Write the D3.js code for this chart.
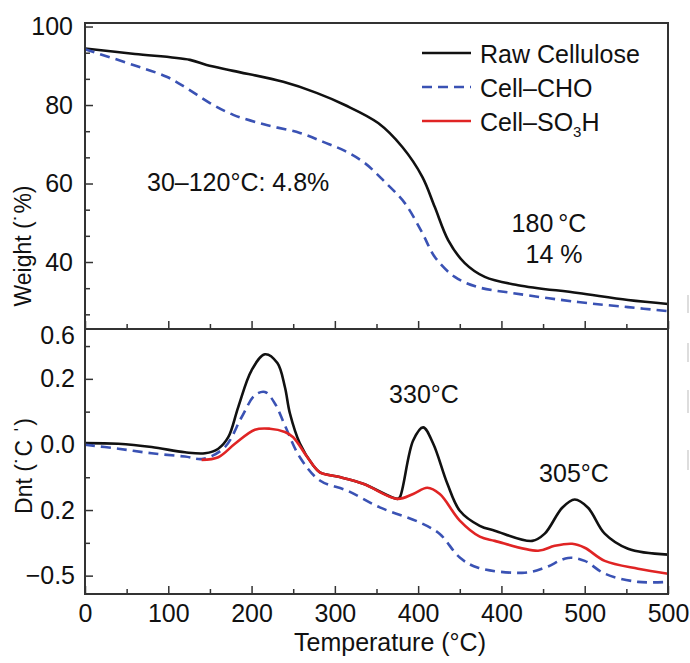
<!DOCTYPE html>
<html>
<head>
<meta charset="utf-8">
<script src="https://cdn.jsdelivr.net/npm/d3@7"></script>
<style>
  body { margin: 0; background: #fff; }
  text { font-family: "Liberation Sans", Arial, sans-serif; fill: #111; }
</style>
</head>
<body>
<div id="chart"></div>
<script>
// x positions run 0..700 along the axis; labels are as printed
const xTickPos = [0, 100, 200, 300, 400, 500, 600, 700];
const xTickLabels = ["0", "100", "200", "300", "400", "400", "500", "500"];

const wTickVals = [100, 80, 60, 40];
const dLabelVals = [0.333, 0.2, 0, -0.2, -0.4];
const dLabels = ["0.6", "0.2", "0.0", "0.2", "\u22120.5"];

// weight curves
const tRaw = [0, 60, 126, 146, 178, 238, 278, 312, 352, 381, 405, 420, 436, 456, 480, 520, 592, 652, 700];
const wRaw = [94.4, 93.0, 91.5, 90.2, 88.7, 85.9, 83.1, 80.0, 75.4, 69.3, 61.7, 54.0, 45.6, 39.7, 36.2, 34.1, 32.1, 30.3, 29.3];
const tCho = [0, 58, 98, 122, 150, 178, 218, 258, 286, 312, 336, 360, 384, 405, 420, 444, 472, 513, 592, 652, 700];
const wCho = [94.2, 90.2, 87.2, 84.3, 80.5, 77.5, 74.9, 72.9, 70.6, 68.3, 65.2, 60.4, 55.0, 47.4, 41.3, 36.2, 33.6, 32.1, 29.8, 28.5, 27.5];

// derivative curves
const dtRaw = [0, 40, 80, 120, 144, 160, 172, 184, 200, 216, 231, 240, 246, 258, 274, 282, 303, 334, 375, 378, 394, 406, 418, 435, 450, 474, 492, 537, 552, 573, 588, 604, 624, 652, 700];
const dRaw = [0.004, 0.002, -0.008, -0.024, -0.027, -0.013, 0.022, 0.114, 0.226, 0.275, 0.248, 0.175, 0.095, 0.003, -0.064, -0.085, -0.098, -0.120, -0.166, -0.161, 0.012, 0.052, 0.003, -0.119, -0.202, -0.248, -0.263, -0.294, -0.272, -0.193, -0.168, -0.193, -0.272, -0.318, -0.336];
const dtCho = [0, 40, 80, 120, 142, 168, 188, 204, 216, 228, 240, 258, 282, 315, 354, 402, 426, 450, 472, 528, 552, 580, 600, 624, 664, 700];
const dCho = [-0.001, -0.013, -0.027, -0.037, -0.044, -0.008, 0.083, 0.150, 0.160, 0.125, 0.058, -0.039, -0.110, -0.141, -0.192, -0.238, -0.273, -0.345, -0.376, -0.391, -0.376, -0.346, -0.355, -0.394, -0.419, -0.419];
const dtSo3h = [140, 160, 180, 204, 222, 240, 250, 267, 282, 303, 334, 375, 394, 411, 426, 450, 474, 492, 544, 564, 585, 600, 624, 664, 700];
const dSo3h = [-0.047, -0.039, 0.002, 0.045, 0.048, 0.038, 0.022, -0.039, -0.085, -0.098, -0.120, -0.166, -0.151, -0.132, -0.151, -0.232, -0.281, -0.294, -0.324, -0.309, -0.303, -0.315, -0.355, -0.379, -0.394];

const seriesNames = ["Raw Cellulose", "Cell\u2013CHO", "Cell\u2013SO"];
const colors = ["#111111", "#3a52b4", "#e02424"];

const width = 690, height = 663;
const plotL = 85, plotR = 668, plotT = 23, plotMid = 329, plotB = 594;

const svg = d3.select("#chart").append("svg")
    .attr("width", width)
    .attr("height", height);

svg.append("rect").attr("width", width).attr("height", height).attr("fill", "#fff");

const x = d3.scaleLinear().domain([0, 700]).range([plotL, plotR]);
const yW = d3.scaleLinear().domain([22.93, 100.9]).range([plotMid, plotT]);
const yD = d3.scaleLinear().domain([-0.456, 0.352]).range([plotB, plotMid]);

function ticksOnly(g, axis) {
    g.call(axis);
    g.select(".domain").remove();
    g.selectAll("line").attr("stroke", "#333").attr("stroke-width", 1.5);
}
function labelsOnly(g, axis) {
    g.call(axis);
    g.select(".domain").remove();
    g.selectAll("line").remove();
    g.selectAll("text").style("font-family", "'Liberation Sans', Arial, sans-serif")
        .style("font-size", "25px").attr("fill", "#111");
}

const xMinor = d3.range(50, 700, 100);
const wMinor = [26.67, 33.33, 46.67, 53.33, 66.67, 73.33, 86.67, 93.33];

// top panel ticks
svg.append("g").attr("transform", `translate(0,${plotMid})`)
    .call(ticksOnly, d3.axisTop(x).tickValues(xTickPos).tickSize(8).tickFormat(""));
svg.append("g").attr("transform", `translate(0,${plotMid})`)
    .call(ticksOnly, d3.axisTop(x).tickValues(xMinor).tickSize(5).tickFormat(""));
svg.append("g").attr("transform", `translate(${plotL},0)`)
    .call(ticksOnly, d3.axisRight(yW).tickValues(wTickVals).tickSize(8).tickFormat(""));
svg.append("g").attr("transform", `translate(${plotL},0)`)
    .call(ticksOnly, d3.axisRight(yW).tickValues(wMinor).tickSize(5).tickFormat(""));
svg.append("g").attr("transform", `translate(${plotL},0)`)
    .call(labelsOnly, d3.axisLeft(yW).tickValues(wTickVals).tickSize(0).tickPadding(12));

// bottom panel ticks
svg.append("g").attr("transform", `translate(0,${plotB})`)
    .call(ticksOnly, d3.axisTop(x).tickValues(xTickPos).tickSize(8).tickFormat(""));
svg.append("g").attr("transform", `translate(0,${plotB})`)
    .call(ticksOnly, d3.axisTop(x).tickValues(xMinor).tickSize(5).tickFormat(""));
svg.append("g").attr("transform", `translate(0,${plotB})`)
    .call(labelsOnly, d3.axisBottom(x).tickValues(xTickPos).tickSize(0).tickPadding(10)
        .tickFormat((d, i) => xTickLabels[i]));
svg.append("g").attr("transform", `translate(${plotL},0)`)
    .call(ticksOnly, d3.axisRight(yD).tickValues([0.2, 0, -0.2, -0.4]).tickSize(8).tickFormat(""));
svg.append("g").attr("transform", `translate(${plotL},0)`)
    .call(ticksOnly, d3.axisRight(yD).tickValues([0.3, 0.1, -0.1, -0.3]).tickSize(5).tickFormat(""));
svg.append("g").attr("transform", `translate(${plotL},0)`)
    .call(labelsOnly, d3.axisLeft(yD).tickValues(dLabelVals).tickSize(0).tickPadding(10)
        .tickFormat((d, i) => dLabels[i]));

// curves
const lineW = d3.line().x(d => x(d[0])).y(d => yW(d[1])).curve(d3.curveCatmullRom.alpha(0.5));
const lineD = d3.line().x(d => x(d[0])).y(d => yD(d[1])).curve(d3.curveCatmullRom.alpha(0.5));

function draw(line, xs, ys, color, dashed) {
    svg.append("path")
        .datum(xs.map((v, i) => [v, ys[i]]))
        .attr("d", line)
        .attr("fill", "none")
        .attr("stroke", color)
        .attr("stroke-width", 2.6)
        .attr("stroke-linejoin", "round")
        .attr("stroke-dasharray", dashed ? "10,6" : null);
}

draw(lineW, tRaw, wRaw, colors[0], false);
draw(lineW, tCho, wCho, colors[1], true);
draw(lineD, dtRaw, dRaw, colors[0], false);
draw(lineD, dtCho, dCho, colors[1], true);
draw(lineD, dtSo3h, dSo3h, colors[2], false);

// frames
svg.append("rect").attr("x", plotL).attr("y", plotT).attr("width", plotR - plotL).attr("height", plotMid - plotT)
    .attr("fill", "none").attr("stroke", "#333").attr("stroke-width", 2);
svg.append("rect").attr("x", plotL).attr("y", plotMid).attr("width", plotR - plotL).attr("height", plotB - plotMid)
    .attr("fill", "none").attr("stroke", "#333").attr("stroke-width", 2);

// legend
const legend = svg.append("g").attr("transform", "translate(422,53)");
seriesNames.forEach((name, i) => {
    const row = legend.append("g").attr("transform", `translate(0,${i * 34})`);
    row.append("line").attr("x1", 0).attr("x2", 49).attr("y1", 0).attr("y2", 0)
        .attr("stroke", colors[i]).attr("stroke-width", 2.6)
        .attr("stroke-dasharray", i === 1 ? "10,6" : null);
    const t = row.append("text").attr("x", 58).attr("y", 10).style("font-size", "25px").text(name);
    if (i === 2) {
        t.append("tspan").attr("dy", 6).style("font-size", "15px").text("3");
        t.append("tspan").attr("dy", -6).text("H");
    }
});

// annotations
svg.append("text").attr("x", 147).attr("y", 191).style("font-size", "25px").text("30\u2013120\u00b0C: 4.8%");
svg.append("text").attr("x", 549).attr("y", 232).attr("text-anchor", "middle").style("font-size", "25px").text("180\u2009\u00b0C");
svg.append("text").attr("x", 554).attr("y", 263).attr("text-anchor", "middle").style("font-size", "25px").text("14 %");
svg.append("text").attr("x", 424).attr("y", 403).attr("text-anchor", "middle").style("font-size", "25px").text("330\u00b0C");
svg.append("text").attr("x", 574).attr("y", 482).attr("text-anchor", "middle").style("font-size", "25px").text("305\u00b0C");

// axis titles
svg.append("text").attr("transform", "translate(31,246) rotate(-90)").attr("text-anchor", "middle")
    .style("font-size", "23px").text("Weight (\u02d9%)");
svg.append("text").attr("transform", "translate(32,466) rotate(-90)").attr("text-anchor", "middle")
    .style("font-size", "23px").text("Dnt (\u02d9C \u02c8)");
svg.append("text").attr("x", 390).attr("y", 651).attr("text-anchor", "middle")
    .style("font-size", "25px").text("Temperature (\u00b0C)");

// faint marks along the right edge
[[295, 313], [343, 362], [390, 413], [450, 470]].forEach(r => {
    svg.append("rect").attr("x", 687).attr("y", r[0]).attr("width", 2).attr("height", r[1] - r[0]).attr("fill", "#ddd");
});
</script>
</body>
</html>
